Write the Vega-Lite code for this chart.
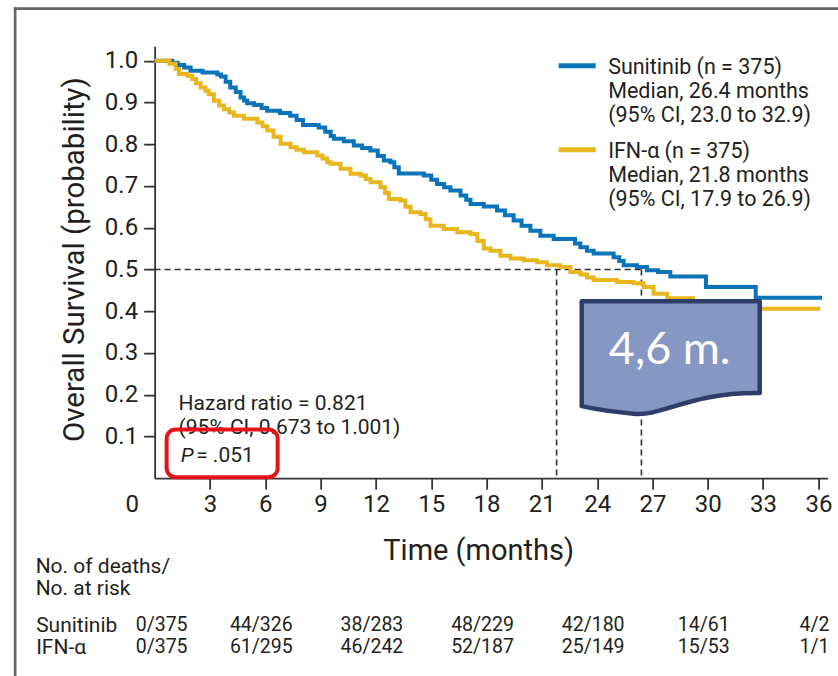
{
  "$schema": "https://vega.github.io/schema/vega-lite/v6.json",
  "background": "white",
  "padding": {"left": 12.65, "top": 6.15, "right": 0, "bottom": 0},
  "bounds": "flush",
  "spacing": 136,
  "config": {
    "font": "Roboto",
    "view": {"stroke": null},
    "axis": {
      "domainColor": "#333333", "domainWidth": 1.8,
      "tickColor": "#333333", "tickWidth": 1.8, "tickSize": 11,
      "labelFont": "Roboto", "labelFontSize": 24, "labelColor": "#231f20",
      "titleFont": "Roboto", "titleFontSize": 29, "titleFontWeight": "normal", "titleColor": "#231f20",
      "grid": false
    }
  },
  "datasets": {
    "km": [
      {"arm": "Sunitinib", "t": 0, "s": 1.0}, {"arm": "Sunitinib", "t": 0.95, "s": 0.995}, {"arm": "Sunitinib", "t": 1.25, "s": 0.99},
      {"arm": "Sunitinib", "t": 1.6, "s": 0.984}, {"arm": "Sunitinib", "t": 1.95, "s": 0.976}, {"arm": "Sunitinib", "t": 2.6, "s": 0.972},
      {"arm": "Sunitinib", "t": 3.4, "s": 0.967}, {"arm": "Sunitinib", "t": 3.6, "s": 0.962}, {"arm": "Sunitinib", "t": 3.85, "s": 0.95},
      {"arm": "Sunitinib", "t": 4.1, "s": 0.936}, {"arm": "Sunitinib", "t": 4.4, "s": 0.925}, {"arm": "Sunitinib", "t": 4.66, "s": 0.912},
      {"arm": "Sunitinib", "t": 4.85, "s": 0.905}, {"arm": "Sunitinib", "t": 5.02, "s": 0.898}, {"arm": "Sunitinib", "t": 5.4, "s": 0.894},
      {"arm": "Sunitinib", "t": 5.8, "s": 0.887}, {"arm": "Sunitinib", "t": 6.1, "s": 0.88}, {"arm": "Sunitinib", "t": 6.8, "s": 0.875},
      {"arm": "Sunitinib", "t": 7.35, "s": 0.868}, {"arm": "Sunitinib", "t": 7.7, "s": 0.858}, {"arm": "Sunitinib", "t": 8.05, "s": 0.846},
      {"arm": "Sunitinib", "t": 8.9, "s": 0.84}, {"arm": "Sunitinib", "t": 9.25, "s": 0.83}, {"arm": "Sunitinib", "t": 9.55, "s": 0.82},
      {"arm": "Sunitinib", "t": 9.72, "s": 0.813}, {"arm": "Sunitinib", "t": 10.26, "s": 0.807}, {"arm": "Sunitinib", "t": 10.8, "s": 0.797},
      {"arm": "Sunitinib", "t": 11.25, "s": 0.791}, {"arm": "Sunitinib", "t": 11.7, "s": 0.785}, {"arm": "Sunitinib", "t": 12.1, "s": 0.772},
      {"arm": "Sunitinib", "t": 12.43, "s": 0.761}, {"arm": "Sunitinib", "t": 12.79, "s": 0.757}, {"arm": "Sunitinib", "t": 13.0, "s": 0.745},
      {"arm": "Sunitinib", "t": 13.24, "s": 0.73}, {"arm": "Sunitinib", "t": 14.6, "s": 0.725}, {"arm": "Sunitinib", "t": 15.0, "s": 0.715},
      {"arm": "Sunitinib", "t": 15.32, "s": 0.705}, {"arm": "Sunitinib", "t": 15.7, "s": 0.697}, {"arm": "Sunitinib", "t": 16.04, "s": 0.689},
      {"arm": "Sunitinib", "t": 16.59, "s": 0.677}, {"arm": "Sunitinib", "t": 16.9, "s": 0.667}, {"arm": "Sunitinib", "t": 17.13, "s": 0.657},
      {"arm": "Sunitinib", "t": 17.85, "s": 0.651}, {"arm": "Sunitinib", "t": 18.57, "s": 0.641}, {"arm": "Sunitinib", "t": 19.0, "s": 0.63},
      {"arm": "Sunitinib", "t": 19.47, "s": 0.617}, {"arm": "Sunitinib", "t": 19.9, "s": 0.605}, {"arm": "Sunitinib", "t": 20.38, "s": 0.593},
      {"arm": "Sunitinib", "t": 20.92, "s": 0.581}, {"arm": "Sunitinib", "t": 21.64, "s": 0.573}, {"arm": "Sunitinib", "t": 22.8, "s": 0.562},
      {"arm": "Sunitinib", "t": 23.09, "s": 0.553}, {"arm": "Sunitinib", "t": 23.45, "s": 0.545}, {"arm": "Sunitinib", "t": 23.81, "s": 0.538},
      {"arm": "Sunitinib", "t": 24.89, "s": 0.529}, {"arm": "Sunitinib", "t": 25.2, "s": 0.52}, {"arm": "Sunitinib", "t": 25.44, "s": 0.51},
      {"arm": "Sunitinib", "t": 26.16, "s": 0.506}, {"arm": "Sunitinib", "t": 26.7, "s": 0.498}, {"arm": "Sunitinib", "t": 27.3, "s": 0.494},
      {"arm": "Sunitinib", "t": 27.97, "s": 0.483}, {"arm": "Sunitinib", "t": 29.9, "s": 0.458}, {"arm": "Sunitinib", "t": 32.6, "s": 0.432},
      {"arm": "Sunitinib", "t": 36.2, "s": 0.432},
      {"arm": "IFN-α", "t": 0, "s": 1.0}, {"arm": "IFN-α", "t": 0.8, "s": 0.993}, {"arm": "IFN-α", "t": 1.14, "s": 0.98},
      {"arm": "IFN-α", "t": 1.32, "s": 0.968}, {"arm": "IFN-α", "t": 1.77, "s": 0.964}, {"arm": "IFN-α", "t": 2.04, "s": 0.956},
      {"arm": "IFN-α", "t": 2.25, "s": 0.946}, {"arm": "IFN-α", "t": 2.49, "s": 0.936}, {"arm": "IFN-α", "t": 2.75, "s": 0.928},
      {"arm": "IFN-α", "t": 2.94, "s": 0.92}, {"arm": "IFN-α", "t": 3.21, "s": 0.904}, {"arm": "IFN-α", "t": 3.5, "s": 0.893},
      {"arm": "IFN-α", "t": 3.76, "s": 0.884}, {"arm": "IFN-α", "t": 4.05, "s": 0.876}, {"arm": "IFN-α", "t": 4.3, "s": 0.868},
      {"arm": "IFN-α", "t": 4.84, "s": 0.861}, {"arm": "IFN-α", "t": 5.57, "s": 0.852}, {"arm": "IFN-α", "t": 5.85, "s": 0.843},
      {"arm": "IFN-α", "t": 6.11, "s": 0.833}, {"arm": "IFN-α", "t": 6.45, "s": 0.818}, {"arm": "IFN-α", "t": 6.83, "s": 0.801},
      {"arm": "IFN-α", "t": 7.37, "s": 0.793}, {"arm": "IFN-α", "t": 7.7, "s": 0.787}, {"arm": "IFN-α", "t": 8.09, "s": 0.781},
      {"arm": "IFN-α", "t": 8.82, "s": 0.773}, {"arm": "IFN-α", "t": 9.1, "s": 0.766}, {"arm": "IFN-α", "t": 9.36, "s": 0.757},
      {"arm": "IFN-α", "t": 9.54, "s": 0.753}, {"arm": "IFN-α", "t": 10.08, "s": 0.741}, {"arm": "IFN-α", "t": 10.62, "s": 0.729},
      {"arm": "IFN-α", "t": 11.17, "s": 0.725}, {"arm": "IFN-α", "t": 11.45, "s": 0.717}, {"arm": "IFN-α", "t": 11.71, "s": 0.709},
      {"arm": "IFN-α", "t": 12.25, "s": 0.697}, {"arm": "IFN-α", "t": 12.5, "s": 0.683}, {"arm": "IFN-α", "t": 12.7, "s": 0.669},
      {"arm": "IFN-α", "t": 13.33, "s": 0.665}, {"arm": "IFN-α", "t": 13.6, "s": 0.65}, {"arm": "IFN-α", "t": 13.88, "s": 0.637},
      {"arm": "IFN-α", "t": 14.42, "s": 0.633}, {"arm": "IFN-α", "t": 14.7, "s": 0.62}, {"arm": "IFN-α", "t": 14.96, "s": 0.605},
      {"arm": "IFN-α", "t": 15.68, "s": 0.597}, {"arm": "IFN-α", "t": 16.41, "s": 0.589}, {"arm": "IFN-α", "t": 17.13, "s": 0.585},
      {"arm": "IFN-α", "t": 17.5, "s": 0.568}, {"arm": "IFN-α", "t": 17.85, "s": 0.55}, {"arm": "IFN-α", "t": 18.21, "s": 0.545},
      {"arm": "IFN-α", "t": 18.75, "s": 0.533}, {"arm": "IFN-α", "t": 19.3, "s": 0.526}, {"arm": "IFN-α", "t": 20.02, "s": 0.522},
      {"arm": "IFN-α", "t": 20.74, "s": 0.517}, {"arm": "IFN-α", "t": 21.28, "s": 0.51}, {"arm": "IFN-α", "t": 22.0, "s": 0.506},
      {"arm": "IFN-α", "t": 22.55, "s": 0.494}, {"arm": "IFN-α", "t": 23.09, "s": 0.488}, {"arm": "IFN-α", "t": 23.45, "s": 0.481},
      {"arm": "IFN-α", "t": 23.81, "s": 0.475}, {"arm": "IFN-α", "t": 25.08, "s": 0.47}, {"arm": "IFN-α", "t": 25.98, "s": 0.467},
      {"arm": "IFN-α", "t": 26.52, "s": 0.458}, {"arm": "IFN-α", "t": 27.06, "s": 0.442}, {"arm": "IFN-α", "t": 27.8, "s": 0.431},
      {"arm": "IFN-α", "t": 29.2, "s": 0.42}, {"arm": "IFN-α", "t": 31.0, "s": 0.406}, {"arm": "IFN-α", "t": 36.1, "s": 0.406}
    ],
    "medians": [
      {"arm": "IFN-α", "median": 21.8},
      {"arm": "Sunitinib", "median": 26.4}
    ],
    "risk": [
      {"arm": "Sunitinib", "t": 0, "text": "0/375"}, {"arm": "Sunitinib", "t": 6, "text": "44/326"},
      {"arm": "Sunitinib", "t": 12, "text": "38/283"}, {"arm": "Sunitinib", "t": 18, "text": "48/229"},
      {"arm": "Sunitinib", "t": 24, "text": "42/180"}, {"arm": "Sunitinib", "t": 30, "text": "14/61"},
      {"arm": "Sunitinib", "t": 36, "text": "4/2"},
      {"arm": "IFN-α", "t": 0, "text": "0/375"}, {"arm": "IFN-α", "t": 6, "text": "61/295"},
      {"arm": "IFN-α", "t": 12, "text": "46/242"}, {"arm": "IFN-α", "t": 18, "text": "52/187"},
      {"arm": "IFN-α", "t": 24, "text": "25/149"}, {"arm": "IFN-α", "t": 30, "text": "15/53"},
      {"arm": "IFN-α", "t": 36, "text": "1/1"}
    ]
  },
  "vconcat": [
    {
      "width": 673,
      "height": 432,
      "layer": [
        {
          "data": {"values": [{}]},
          "mark": {"type": "rule", "stroke": "#666666", "strokeWidth": 2.7, "strokeCap": "square", "clip": false},
          "encoding": {
            "x": {"datum": -7.566, "type": "quantitative"},
            "y": {"datum": 1.1248, "type": "quantitative"},
            "y2": {"datum": -0.6}
          }
        },
        {
          "data": {"values": [{}]},
          "mark": {"type": "rule", "stroke": "#666666", "strokeWidth": 2.7, "strokeCap": "square", "clip": false},
          "encoding": {
            "x": {"datum": -7.566, "type": "quantitative"},
            "x2": {"datum": 38},
            "y": {"datum": 1.1248, "type": "quantitative"}
          }
        },
        {
          "data": {"values": [{}]},
          "mark": {"type": "rule", "stroke": "#333333", "strokeWidth": 1.6, "strokeDash": [6, 4]},
          "encoding": {
            "x": {"datum": 0, "type": "quantitative"},
            "x2": {"datum": 26.4},
            "y": {"datum": 0.5, "type": "quantitative"}
          }
        },
        {
          "data": {"name": "medians"},
          "mark": {"type": "rule", "stroke": "#333333", "strokeWidth": 1.6, "strokeDash": [6, 4]},
          "encoding": {
            "x": {"field": "median", "type": "quantitative"},
            "y": {"datum": 0.5, "type": "quantitative"},
            "y2": {"datum": 0}
          }
        },
        {
          "data": {"name": "km"},
          "mark": {"type": "line", "interpolate": "step-after", "strokeWidth": 4},
          "encoding": {
            "x": {
              "field": "t", "type": "quantitative",
              "scale": {"domain": [0, 36.5], "nice": false, "zero": false},
              "axis": {
                "values": [0, 3, 6, 9, 12, 15, 18, 21, 24, 27, 30, 33, 36],
                "labelFlush": false, "labelOverlap": false, "labelPadding": 3,
                "labelOffset": {"condition": {"test": "datum.value === 0", "value": -23}, "value": 0},
                "tickOpacity": {"condition": {"test": "datum.value === 0", "value": 0}, "value": 1},
                "title": "Time (months)", "titlePadding": 20, "titleX": 323.5
              }
            },
            "y": {
              "field": "s", "type": "quantitative",
              "scale": {"domain": [0, 1.035], "nice": false, "zero": false},
              "axis": {
                "values": [0.1, 0.2, 0.3, 0.4, 0.5, 0.6, 0.7, 0.8, 0.9, 1.0],
                "format": ".1f", "labelPadding": 6,
                "title": "Overall Survival (probability)", "titleFontSize": 29.5,
                "titlePadding": 15, "titleY": 213
              }
            },
            "color": {
              "field": "arm", "type": "nominal",
              "scale": {"domain": ["Sunitinib", "IFN-α"], "range": ["#0a74bb", "#e9b61d"]},
              "legend": {
                "orient": "none", "legendX": 401.5, "legendY": -1.5,
                "title": null,
                "symbolType": "stroke", "symbolSize": 1369, "symbolStrokeWidth": 5,
                "labelFont": "Roboto", "labelFontSize": 21.5, "labelColor": "#231f20",
                "labelOffset": 10, "labelBaseline": "top", "labelLimit": 400,
                "rowPadding": 1,
                "labelExpr": "datum.label == 'Sunitinib' ? ['Sunitinib (n = 375)', 'Median, 26.4 months', '(95% CI, 23.0 to 32.9)'] : ['IFN-α (n = 375)', 'Median, 21.8 months', '(95% CI, 17.9 to 26.9)']",
                "encode": {"labels": {"update": {"dy": {"value": -9}, "lineHeight": {"value": 24.3}}}}
              }
            }
          }
        },
        {
          "data": {"values": [{}]},
          "mark": {"type": "text", "align": "left", "baseline": "middle", "font": "Roboto", "fontSize": 21, "color": "#231f20", "lineHeight": 24,
                   "text": ["Hazard ratio = 0.821", "(95% CI, 0.673 to 1.001)"]},
          "encoding": {"x": {"datum": 1.3, "type": "quantitative"}, "y": {"datum": 0.1773, "type": "quantitative"}}
        },
        {
          "data": {"values": [{}]},
          "mark": {"type": "text", "align": "left", "baseline": "middle", "font": "Roboto", "fontSize": 21, "fontStyle": "italic", "color": "#231f20", "text": "P"},
          "encoding": {"x": {"datum": 1.41, "type": "quantitative"}, "y": {"datum": 0.0527, "type": "quantitative"}}
        },
        {
          "data": {"values": [{}]},
          "mark": {"type": "text", "align": "left", "baseline": "middle", "font": "Roboto", "fontSize": 21, "color": "#231f20", "text": "= .051"},
          "encoding": {"x": {"datum": 2.25, "type": "quantitative"}, "y": {"datum": 0.0527, "type": "quantitative"}}
        },
        {
          "data": {"values": [{}]},
          "mark": {"type": "rect", "filled": false, "stroke": "#e5141b", "strokeWidth": 4, "cornerRadius": 9, "clip": false},
          "encoding": {
            "x": {"datum": 0.65, "type": "quantitative"}, "x2": {"datum": 6.67},
            "y": {"datum": 0.1164, "type": "quantitative"}, "y2": {"datum": 0.0024}
          }
        },
        {
          "data": {"values": [{}]},
          "mark": {
            "type": "point",
            "shape": "M -1 -0.584 L 1 -0.584 L 1 0.449 C 0.2 0.44 -0.1 0.72 -0.42 0.68 C -0.65 0.66 -0.85 0.63 -1 0.596 Z",
            "size": 31684, "filled": true, "fill": "#8797c4", "stroke": "#2f3e69", "strokeWidth": 4.5,
            "strokeJoin": "round", "opacity": 1
          },
          "encoding": {"x": {"datum": 27.99, "type": "quantitative"}, "y": {"datum": 0.2995, "type": "quantitative"}}
        },
        {
          "data": {"values": [{}]},
          "mark": {"type": "text", "text": "4,6 m.", "font": "Lato", "fontSize": 45, "color": "#ffffff", "align": "center", "baseline": "alphabetic"},
          "encoding": {"x": {"datum": 27.93, "type": "quantitative"}, "y": {"datum": 0.2724, "type": "quantitative"}}
        }
      ]
    },
    {
      "width": 673,
      "height": 44,
      "title": {
        "text": ["No. of deaths/", "No. at risk"],
        "anchor": "start", "font": "Roboto", "fontSize": 21, "fontWeight": "normal",
        "color": "#231f20", "lineHeight": 22.5, "offset": 15
      },
      "data": {"name": "risk"},
      "mark": {"type": "text", "font": "Roboto", "fontSize": 19.5, "color": "#231f20", "dx": {"expr": "datum.t === 0 ? 7 : -4"}},
      "encoding": {
        "x": {"field": "t", "type": "quantitative", "scale": {"domain": [0, 36.5], "nice": false, "zero": false}, "axis": null},
        "y": {
          "field": "arm", "type": "nominal",
          "scale": {"domain": ["Sunitinib", "IFN-α"]},
          "axis": {
            "orient": "left", "title": null, "ticks": false, "domain": false,
            "labelAlign": "left", "labelPadding": 119, "labelFontSize": 21
          }
        },
        "text": {"field": "text"}
      }
    }
  ]
}
